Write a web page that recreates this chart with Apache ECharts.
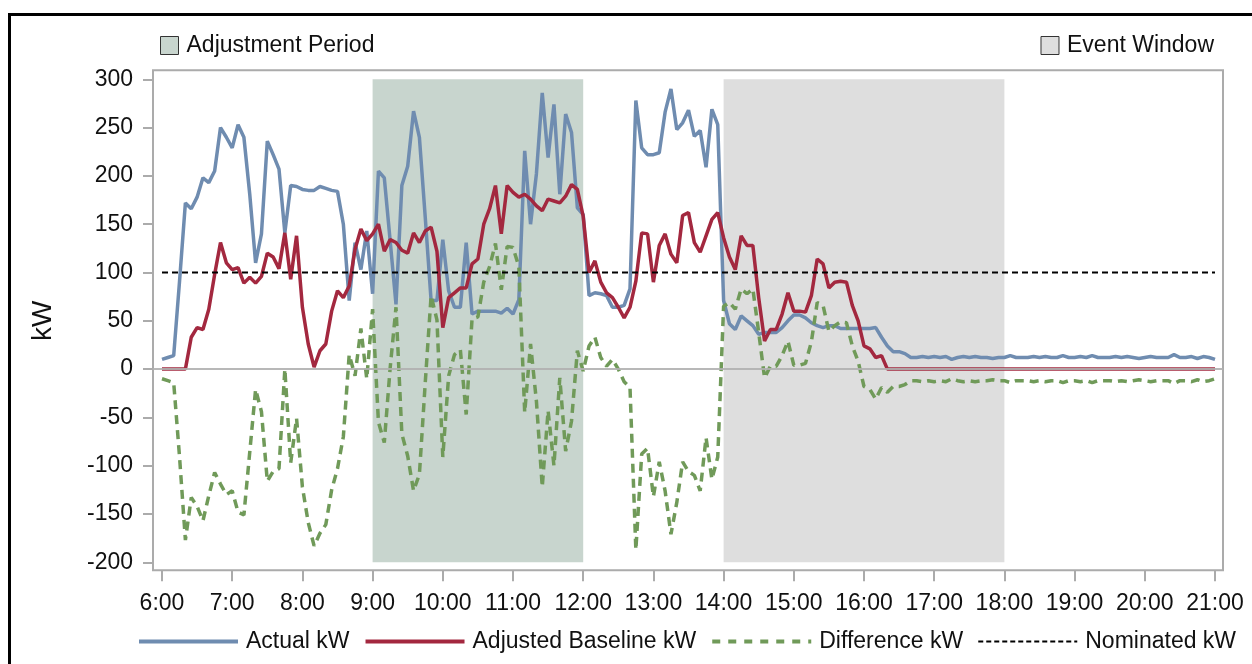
<!DOCTYPE html>
<html><head><meta charset="utf-8">
<script src="https://cdn.jsdelivr.net/npm/echarts/dist/echarts.min.js"></script>
<style>html,body{margin:0;padding:0;background:#fff}#c{width:1252px;height:664px}</style>
</head><body><div id="c"></div>
<script>
// ---- data ----
const timeLabels = [];
for (let m = 6 * 60; m <= 21 * 60; m += 5) timeLabels.push(Math.floor(m / 60) + ':' + String(m % 60).padStart(2, '0'));

const actualKW = [
  10,12,14,91,172,166,178,198,193,205,250,240,
  229,253,240,181,110,140,236,222,207,141,190,189,
  186,185,185,189,187,185,184,150,71,131,103,143,
  78,205,198,133,67,190,210,267,240,157,71,71,
  134,81,64,64,131,57,60,60,60,60,58,63,
  57,72,226,150,202,286,219,274,181,264,245,167,
  160,76,79,78,76,64,64,66,83,278,229,222,
  222,224,266,290,248,255,268,241,247,209,269,253,
  71,47,41,55,50,45,36,38,38,38,43,50,
  56,56,53,48,45,43,45,45,42,42,42,42,
  42,42,43,33,24,18,18,16,12,12,13,12,
  13,12,13,10,12,13,12,13,12,12,11,12,
  12,14,12,12,12,13,12,13,12,12,14,12,
  12,13,12,14,12,12,12,13,12,13,12,11,
  12,13,12,12,12,15,12,12,13,11,13,12,
  10
];
const baselineKW = [
  0,0,0,0,0,33,43,41,62,98,131,110,
  103,105,89,95,89,96,120,116,104,141,93,138,
  64,26,2,19,26,60,81,74,86,124,145,133,
  140,150,122,134,131,123,120,141,131,143,147,122,
  43,74,79,84,84,109,114,150,166,190,140,190,
  183,178,181,176,169,164,176,174,172,179,191,186,
  158,100,112,90,79,74,64,53,64,91,141,140,
  90,128,140,119,110,159,162,131,121,138,155,162,
  136,116,103,138,128,128,74,29,41,41,57,79,
  60,60,59,76,114,109,84,90,91,90,66,50,
  24,21,12,14,0,0,0,0,0,0,0,0,
  0,0,0,0,0,0,0,0,0,0,0,0,
  0,0,0,0,0,0,0,0,0,0,0,0,
  0,0,0,0,0,0,0,0,0,0,0,0,
  0,0,0,0,0,0,0,0,0,0,0,0,
  0
];
const differenceKW = [
  -10,-12,-14,-91,-177,-133,-142,-157,-131,-107,-119,-130,
  -126,-148,-151,-86,-21,-44,-116,-106,-103,0,-97,-51,
  -122,-159,-183,-170,-161,-125,-103,-70,15,-7,42,-10,
  62,-55,-76,1,64,-67,-90,-126,-109,-14,76,51,
  -91,-7,15,20,-47,52,54,90,106,130,82,127,
  126,106,-45,26,-33,-122,-43,-100,-9,-85,-54,19,
  -2,24,33,12,3,10,0,-13,-19,-187,-88,-82,
  -132,-96,-126,-171,-138,-96,-106,-110,-126,-71,-114,-91,
  65,69,62,83,78,83,38,-9,3,3,14,29,
  4,4,6,28,69,66,39,45,49,48,24,8,
  -18,-21,-31,-19,-24,-18,-18,-16,-12,-12,-13,-12,
  -13,-12,-13,-10,-12,-13,-12,-13,-12,-12,-11,-12,
  -12,-14,-12,-12,-12,-13,-12,-13,-12,-12,-14,-12,
  -12,-13,-12,-14,-12,-12,-12,-13,-12,-13,-12,-11,
  -12,-13,-12,-12,-12,-15,-12,-12,-13,-11,-13,-12,
  -10
];
const nominatedKW = 100;
const adjustmentPeriod = ['9:00', '12:00'];
const eventWindow = ['14:00', '18:00'];
const yMin = -200, yMax = 300, yStep = 50;

// ---- chart ----
const FONT = '"Liberation Sans", Arial, Helvetica, sans-serif';
const AX = '#ababab';
const chart = echarts.init(document.getElementById('c'), null, {renderer: 'canvas'});
const hourly = (i) => i % 12 === 0;

chart.setOption({
  animation: false,
  backgroundColor: '#ffffff',
  textStyle: {fontFamily: FONT},
  grid: {left: 162, right: 37, top: 79.3, bottom: 101.7, containLabel: false, outerBoundsMode: 'none'},
  xAxis: {
    type: 'category', data: timeLabels, boundaryGap: false, offset: 8,
    axisLine: {show: false, onZero: false},
    axisTick: {show: true, interval: hourly, length: 11, lineStyle: {color: AX, width: 2}},
    axisLabel: {show: true, interval: hourly, fontSize: 23, color: '#111', fontFamily: FONT, margin: 22,
      showMinLabel: true, showMaxLabel: true, hideOverlap: false},
    splitLine: {show: false}
  },
  yAxis: {
    type: 'value', min: yMin, max: yMax, interval: yStep, offset: 9,
    name: 'kW', nameLocation: 'middle', nameRotate: 90, nameGap: 96,
    nameTextStyle: {fontSize: 28, color: '#111', fontFamily: FONT},
    axisLine: {show: false},
    axisTick: {show: true, length: 10, lineStyle: {color: AX, width: 2}},
    axisLabel: {fontSize: 23, color: '#111', fontFamily: FONT, margin: 20},
    splitLine: {show: false}
  },
  legend: [
    {
      data: [
        {name: 'Actual kW', lineStyle: {width: 4}},
        {name: 'Adjusted Baseline kW', lineStyle: {width: 4}},
        {name: 'Difference kW', lineStyle: {width: 4, type: [8, 8]}},
        {name: 'Nominated kW', lineStyle: {width: 2, type: [5, 3]}}
      ],
      left: 132, top: 625, itemWidth: 99, itemHeight: 14, itemGap: 14,
      itemStyle: {opacity: 0}, selectedMode: false,
      textStyle: {fontSize: 23, color: '#111', fontFamily: FONT, padding: [0, 0, 0, 3]}
    },
    {
      data: [{name: 'Adjustment Period', icon: 'rect'}],
      left: 155, top: 29, itemWidth: 18, itemHeight: 18, selectedMode: false,
      itemStyle: {borderColor: '#333', borderWidth: 1},
      textStyle: {fontSize: 23, color: '#111', fontFamily: FONT, padding: [0, 0, 0, 3]}
    },
    {
      data: [{name: 'Event Window', icon: 'rect'}],
      right: 33, top: 29, itemWidth: 18, itemHeight: 18, selectedMode: false,
      itemStyle: {borderColor: '#333', borderWidth: 1},
      textStyle: {fontSize: 23, color: '#111', fontFamily: FONT, padding: [0, 0, 0, 3]}
    }
  ],
  series: [
    {
      name: 'Adjustment Period', type: 'line', data: [], z: 1,
      color: '#c8d5ce', itemStyle: {color: '#c8d5ce'},
      markArea: {silent: true, itemStyle: {color: '#c8d5ce'},
        data: [[{xAxis: adjustmentPeriod[0]}, {xAxis: adjustmentPeriod[1]}]]}
    },
    {
      name: 'Event Window', type: 'line', data: [], z: 1,
      color: '#dedede', itemStyle: {color: '#dedede'},
      markArea: {silent: true, itemStyle: {color: '#dedede'},
        data: [[{xAxis: eventWindow[0]}, {xAxis: eventWindow[1]}]]}
    },
    {
      name: 'Actual kW', type: 'line', data: actualKW, symbol: 'none', showSymbol: false,
      color: '#6f8cb0', lineStyle: {color: '#6f8cb0', width: 3.5}, z: 3
    },
    {
      name: 'Adjusted Baseline kW', type: 'line', data: baselineKW, symbol: 'none', showSymbol: false,
      color: '#a3283f', lineStyle: {color: '#a3283f', width: 3.5}, z: 4
    },
    {
      name: 'Difference kW', type: 'line', data: differenceKW, symbol: 'none', showSymbol: false,
      color: '#709a59', lineStyle: {color: '#709a59', width: 3.5, type: [9, 6]}, z: 5
    },
    {
      name: 'Nominated kW', type: 'line',
      data: [[timeLabels[0], nominatedKW], [timeLabels[timeLabels.length - 1], nominatedKW]],
      symbol: 'none', showSymbol: false,
      color: '#000', lineStyle: {color: '#000', width: 2, type: [6, 4]}, z: 6
    }
  ]
});

// frame, zero reference line and outer border (positions from the library's scales)
const x0 = chart.convertToPixel({xAxisIndex: 0}, timeLabels[0]);
const x1 = chart.convertToPixel({xAxisIndex: 0}, timeLabels[timeLabels.length - 1]);
const yTop = chart.convertToPixel({yAxisIndex: 0}, yMax);
const yBot = chart.convertToPixel({yAxisIndex: 0}, yMin);
const yZero = chart.convertToPixel({yAxisIndex: 0}, 0);
const fl = x0 - 9, fr = x1 + 8, ft = yTop - 9, fb = yBot + 8;
chart.setOption({
  graphic: [
    {type: 'rect', shape: {x: fl, y: ft, width: fr - fl, height: fb - ft}, z: 0,
      style: {fill: null, stroke: AX, lineWidth: 2}},
    {type: 'line', shape: {x1: fl, y1: yZero, x2: fr, y2: yZero}, z: 100,
      style: {stroke: '#b0b0b0', lineWidth: 2, opacity: 0.9}},
    {type: 'polyline', shape: {points: [[9.5, 664], [9.5, 14.5], [1252, 14.5]]}, z: 100,
      style: {fill: null, stroke: '#000', lineWidth: 3}}
  ]
});
</script>
</body></html>
